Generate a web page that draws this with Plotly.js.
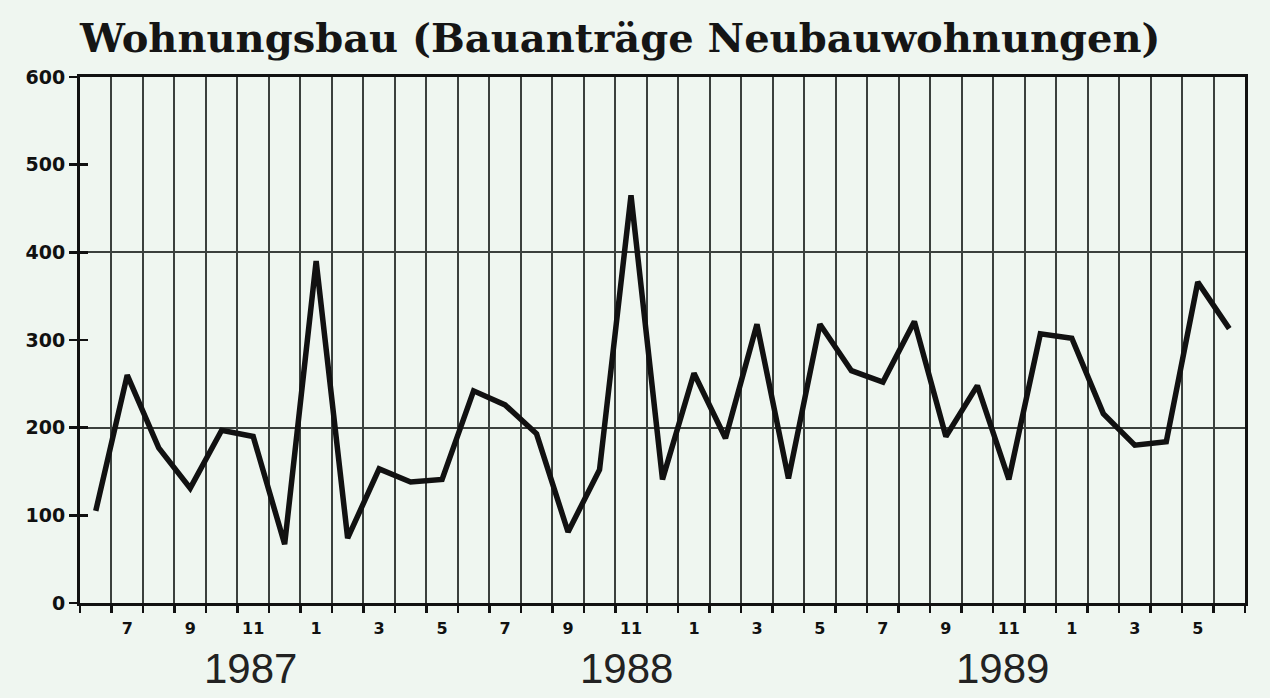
<!DOCTYPE html>
<html>
<head>
<meta charset="utf-8">
<script src="https://cdn.plot.ly/plotly-3.0.1.min.js"></script>
<style>
  html, body { margin: 0; padding: 0; background: #eff6f0; }
  #chart { width: 1270px; height: 698px; }
</style>
</head>
<body>
<div id="chart"></div>
<script>
// Months from 6/1987 to 6/1990
const months = [
  "1987-06","1987-07","1987-08","1987-09","1987-10","1987-11","1987-12",
  "1988-01","1988-02","1988-03","1988-04","1988-05","1988-06","1988-07","1988-08","1988-09","1988-10","1988-11","1988-12",
  "1989-01","1989-02","1989-03","1989-04","1989-05","1989-06","1989-07","1989-08","1989-09","1989-10","1989-11","1989-12",
  "1990-01","1990-02","1990-03","1990-04","1990-05","1990-06"
];
// Bauanträge Neubauwohnungen
const antraege = [
  105, 260, 177, 131, 197, 190, 67,
  390, 74, 153, 138, 141, 242, 226, 193, 81, 152, 465, 141,
  262, 188, 318, 142, 318, 265, 252, 321, 190, 248, 141, 307,
  302, 216, 180, 184, 366, 313
];
// Month tick labels (blank where no label is printed)
const monthLabels = [
  "", "7", "", "9", "", "11", "",
  "1", "", "3", "", "5", "", "7", "", "9", "", "11", "",
  "1", "", "3", "", "5", "", "7", "", "9", "", "11", "",
  "1", "", "3", "", "5", ""
];
const yearLabels = ["1987", "1988", "1989"];
const yearPos = [0.146, 0.4695, 0.792];
const yTicks = [0, 100, 200, 300, 400, 500, 600];

const ink = "#111";
const grid = "#3b403d";

const traces = [
  {
    type: "scatter", mode: "lines",
    x: months, y: antraege,
    line: { color: ink, width: 5.5, shape: "linear" },
    hoverinfo: "x+y", showlegend: false
  },
  { type: "scatter", x: [], y: [], yaxis: "y2", showlegend: false, hoverinfo: "skip" },
  { type: "scatter", x: [], y: [], yaxis: "y3", showlegend: false, hoverinfo: "skip" }
];

const layout = {
  width: 1270, height: 698,
  paper_bgcolor: "#eff6f0", plot_bgcolor: "#eff6f0",
  margin: { l: 80, r: 25, t: 77, b: 95 },
  title: {
    text: "Wohnungsbau (Bauanträge Neubauwohnungen)",
    font: { family: "DejaVu Serif", size: 40, color: "#151515", weight: "bold" },
    xref: "container", x: 0.063, xanchor: "left",
    yref: "container", y: 0.945, yanchor: "middle"
  },
  xaxis: {
    type: "category",
    range: [-0.5, months.length - 0.5],
    tickmode: "array", tickvals: months, ticktext: monthLabels,
    tickson: "boundaries", tickangle: 0, ticklabelstandoff: 9,
    ticks: "outside", ticklen: 7, tickwidth: 2.5, tickcolor: ink,
    showgrid: true, gridcolor: grid, gridwidth: 2,
    showline: true, linecolor: ink, linewidth: 3, mirror: true,
    tickfont: { family: "DejaVu Sans", size: 16, color: ink, weight: "bold" },
    zeroline: false, fixedrange: true
  },
  yaxis: {
    range: [0, 600],
    tickmode: "array", tickvals: yTicks,
    ticks: "outside", ticklen: 8, tickwidth: 2.5, tickcolor: ink,
    showgrid: false,
    showline: true, linecolor: ink, linewidth: 3, mirror: true,
    tickfont: { family: "DejaVu Sans", size: 19, color: ink, weight: "bold" },
    zeroline: false, fixedrange: true
  },
  yaxis2: {
    overlaying: "y", side: "left",
    range: [0, 600], tickmode: "array", tickvals: yTicks,
    ticks: "inside", ticklen: 8, tickwidth: 2.5, tickcolor: ink,
    showticklabels: false, showgrid: false, showline: false, zeroline: false, fixedrange: true
  },
  yaxis3: {
    overlaying: "y", side: "left",
    range: [0, 600], tickmode: "array", tickvals: [200, 400],
    ticks: "", showticklabels: false,
    showgrid: true, gridcolor: grid, gridwidth: 1.8,
    showline: false, zeroline: false, fixedrange: true
  },
  annotations: yearLabels.map((t, i) => ({
    text: t, xref: "paper", yref: "paper",
    x: yearPos[i], y: -0.125, xanchor: "center", yanchor: "middle",
    showarrow: false,
    font: { family: "Liberation Sans", size: 42, color: "#222" }
  }))
};

Plotly.newPlot("chart", traces, layout, { displayModeBar: false, staticPlot: true });
</script>
</body>
</html>
